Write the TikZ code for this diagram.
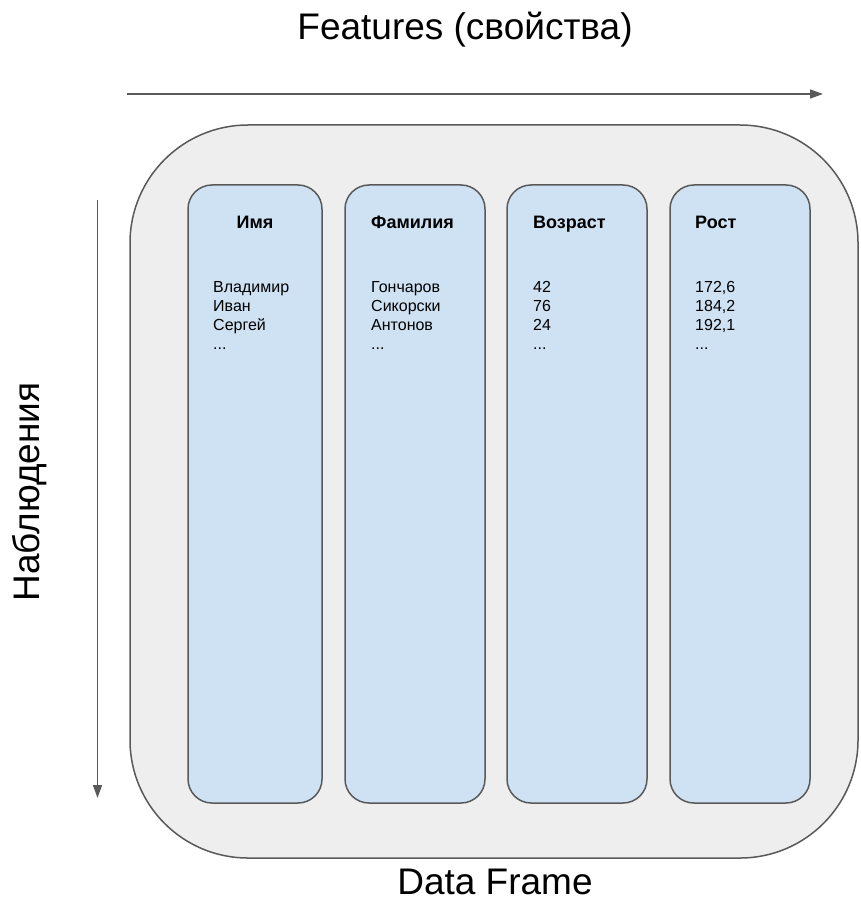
\documentclass[tikz,border=0pt]{standalone}
\usepackage{fontspec}
\setmainfont{Liberation Sans}
\usetikzlibrary{arrows.meta}
\definecolor{frameline}{HTML}{595959}
\definecolor{framefill}{HTML}{EEEEEE}
\definecolor{colfill}{HTML}{CFE2F3}
\begin{document}
\begin{tikzpicture}[x=1pt,y=-1pt,
  frame/.style={draw=frameline, fill=framefill, line width=1.5pt, rounded corners=118pt,
    inner sep=0pt, minimum width=728pt, minimum height=733pt},
  column/.style={draw=frameline, fill=colfill, line width=1.5pt, rounded corners=24pt,
    inner sep=0pt, minimum width=140pt, minimum height=618pt},
  axis/.style={draw=frameline, line width=1.5pt, -{Triangle[length=13pt,width=9pt]}},
  header/.style={font=\fontsize{18}{21}\selectfont\bfseries, inner sep=0pt},
  values/.style={font=\fontsize{16}{19}\selectfont, align=left, inner sep=0pt, anchor=north west},
  big/.style={font=\fontsize{37}{42}\selectfont, inner sep=0pt}]
\useasboundingbox (0,0) rectangle (860,917);

% outer data frame
\node[frame] (df) at (494,491.5) {};

% the four columns
\node[column, minimum width=134pt] (c1) at (255,494) {};
\node[column] (c2) at (415,494) {};
\node[column] (c3) at (577,494) {};
\node[column] (c4) at (740,494) {};

% column headers, set on a common baseline
\node[header, anchor=base] (h1) at (255,228.5) {Имя};
\node[header, anchor=base west] (h2) at (371,228.5) {Фамилия};
\node[header, anchor=base west] (h3) at (533,228.5) {Возраст};
\node[header, anchor=base west] (h4) at (695,228.5) {Рост};

% column values
\node[values] (v1) at (213,281) {Владимир\\Иван\\Сергей\\...};
\node[values] (v2) at (371,281) {Гончаров\\Сикорски\\Антонов\\...};
\node[values] (v3) at (533,281) {42\\76\\24\\...};
\node[values] (v4) at (695,281) {172,6\\184,2\\192,1\\...};

% axes
\coordinate (hstart) at (127,94);
\coordinate (hend) at (823,94);
\draw[axis] (hstart) -- (hend);
\coordinate (vstart) at (97.5,200);
\coordinate (vend) at (97.5,798);
\draw[axis] (vstart) -- (vend);

% labels
\node[big] (features) at (465,30) {Features (свойства)};
\node[big] (frame) at (495,882) {Data Frame};
\node[big, rotate=90] (obs) at (30,492) {Наблюдения};
\end{tikzpicture}
\end{document}
